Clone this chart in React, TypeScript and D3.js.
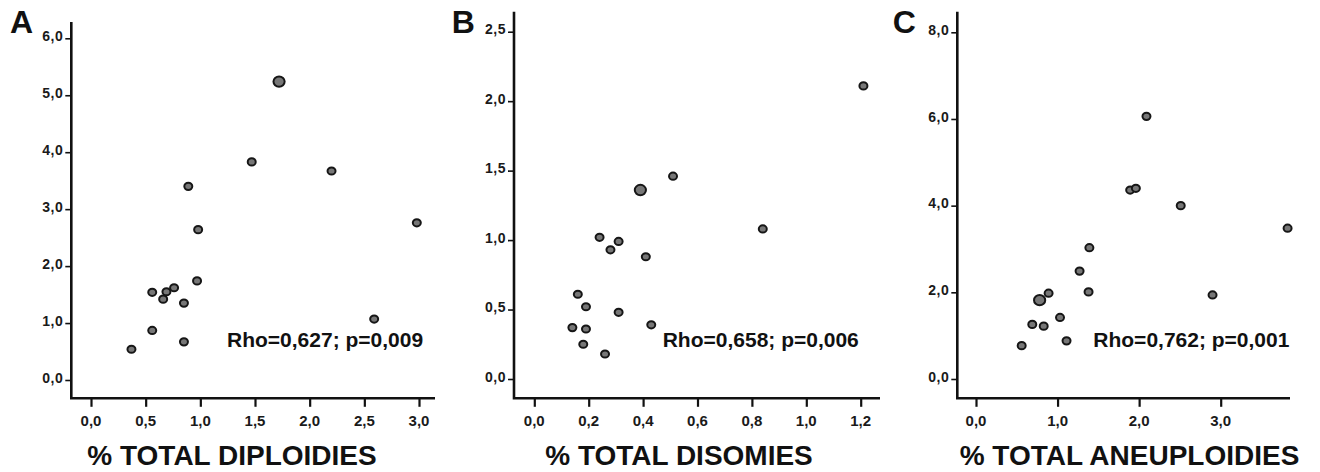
import { useEffect, useRef } from "react";
import * as d3 from "d3";

// A: % total diploidies
const diploX = [1.72, 1.47, 0.89, 2.2, 0.98, 2.98, 0.56, 0.66, 0.69, 0.76, 0.85, 0.97, 0.56, 0.85, 0.37, 2.59];
const diploY = [5.24, 3.83, 3.4, 3.67, 2.64, 2.76, 1.54, 1.42, 1.55, 1.62, 1.35, 1.74, 0.87, 0.67, 0.54, 1.07];
const diploN = [2, 1, 1, 1, 1, 1, 1, 1, 1, 1, 1, 1, 1, 1, 1, 1];

// B: % total disomies
const disoX = [1.21, 0.51, 0.39, 0.84, 0.24, 0.31, 0.28, 0.41, 0.16, 0.19, 0.31, 0.14, 0.19, 0.43, 0.18, 0.26];
const disoY = [2.11, 1.46, 1.36, 1.08, 1.02, 0.99, 0.93, 0.88, 0.61, 0.52, 0.48, 0.37, 0.36, 0.39, 0.25, 0.18];
const disoN = [1, 1, 2, 1, 1, 1, 1, 1, 1, 1, 1, 1, 1, 1, 1, 1];

// C: % total aneuploidies
const aneuX = [2.09, 1.89, 1.96, 2.51, 3.82, 1.39, 1.27, 1.38, 0.89, 0.78, 1.03, 0.69, 0.83, 1.11, 0.56, 2.9];
const aneuY = [6.06, 4.36, 4.4, 4.0, 3.48, 3.03, 2.49, 2.01, 1.98, 1.82, 1.42, 1.26, 1.22, 0.88, 0.77, 1.94];
const aneuN = [1, 1, 1, 1, 1, 1, 1, 1, 1, 2, 1, 1, 1, 1, 1, 1];

const xTicksA = [0, 0.5, 1, 1.5, 2, 2.5, 3];
const yTicksA = [0, 1, 2, 3, 4, 5, 6];
const xTicksB = [0, 0.2, 0.4, 0.6, 0.8, 1, 1.2];
const yTicksB = [0, 0.5, 1, 1.5, 2, 2.5];
const xTicksC = [0, 1, 2, 3];
const yTicksC = [0, 2, 4, 6, 8];

const letters = ["A", "B", "C"];
const titles = ["% TOTAL DIPLOIDIES", "% TOTAL DISOMIES", "% TOTAL ANEUPLOIDIES"];
const stats = ["Rho=0,627; p=0,009", "Rho=0,658; p=0,006", "Rho=0,762; p=0,001"];

const FONT = "'Liberation Sans', Arial, Helvetica, sans-serif";
const locale = d3.formatLocale({ decimal: ",", thousands: ".", grouping: [3], currency: ["", ""] });
const fmt = locale.format(".1f");

const panels = [
  { xs: diploX, ys: diploY, ns: diploN, xTicks: xTicksA, yTicks: yTicksA,
    xRange: [91, 419], yRange: [380, 38.3], axisX: 71.3, top: 22, right: 435,
    letterX: 10, titleX: 232, statX: 227 },
  { xs: disoX, ys: disoY, ns: disoN, xTicks: xTicksB, yTicks: yTicksB,
    xRange: [534.3, 860.7], yRange: [379, 31.7], axisX: 514, top: 11.7, right: 880,
    letterX: 451.7, titleX: 679, statX: 662.7 },
  { xs: aneuX, ys: aneuY, ns: aneuN, xTicks: xTicksC, yTicks: yTicksC,
    xRange: [976, 1220.7], yRange: [379, 32.3], axisX: 957.3, top: 11.7, right: 1290,
    letterX: 892.7, titleX: 1129.5, statX: 1093.3 },
];

const App = () => {
  const svgRef = useRef(null);

  useEffect(() => {
    const svg = d3.select(svgRef.current);
    svg.selectAll("*").remove();
    const axisY = 398.3;
    const r = d3.scaleSqrt().domain([1, 2]).range([4, 5.6]);

    panels.forEach((p, i) => {
      const x = d3.scaleLinear().domain(d3.extent(p.xTicks)).range(p.xRange);
      const y = d3.scaleLinear().domain(d3.extent(p.yTicks)).range(p.yRange);
      const g = svg.append("g");

      // tick marks from d3 axes, labels drawn separately
      const gx = g.append("g")
        .attr("transform", `translate(0,${axisY})`)
        .call(d3.axisBottom(x).tickValues(p.xTicks).tickFormat(() => "").tickSize(8.5));
      gx.select(".domain").remove();
      gx.selectAll("line").attr("stroke", "#111").attr("stroke-width", 2.2);

      const gy = g.append("g")
        .attr("transform", `translate(${p.axisX},0)`)
        .call(d3.axisLeft(y).tickValues(p.yTicks).tickFormat(() => "").tickSize(6));
      gy.select(".domain").remove();
      gy.selectAll("line").attr("stroke", "#111").attr("stroke-width", 1.6);

      g.selectAll(".xl")
        .data(p.xTicks)
        .enter()
        .append("text")
        .attr("class", "xl")
        .attr("x", (d) => x(d))
        .attr("y", axisY + 27.5)
        .attr("text-anchor", "middle")
        .style("font-family", FONT)
        .style("font-size", "15px")
        .style("font-weight", "bold")
        .style("fill", "#1a1a1a")
        .text((d) => fmt(d));

      g.selectAll(".yl")
        .data(p.yTicks)
        .enter()
        .append("text")
        .attr("class", "yl")
        .attr("x", p.axisX - 8)
        .attr("y", (d) => y(d) + 2.7)
        .attr("text-anchor", "end")
        .style("font-family", FONT)
        .style("font-size", "14px")
        .style("font-weight", "bold")
        .style("letter-spacing", "0.5px")
        .style("fill", "#1a1a1a")
        .text((d) => fmt(d));

      // axis lines
      g.append("path")
        .attr("d", `M${p.axisX},${p.top}V${axisY}H${p.right}`)
        .attr("fill", "none")
        .attr("stroke", "#111")
        .attr("stroke-width", 2.6);

      // points
      g.selectAll(".pt")
        .data(p.xs.map((v, k) => ({ x: v, y: p.ys[k], n: p.ns[k] })))
        .enter()
        .append("ellipse")
        .attr("class", "pt")
        .attr("cx", (d) => x(d.x))
        .attr("cy", (d) => y(d.y))
        .attr("rx", (d) => r(d.n))
        .attr("ry", (d) => r(d.n) - 0.4)
        .attr("fill", "#777")
        .attr("stroke", "#161616")
        .attr("stroke-width", 2);

      g.append("text")
        .attr("x", p.statX)
        .attr("y", 347)
        .style("font-family", FONT)
        .style("font-size", "21px")
        .style("font-weight", "bold")
        .style("fill", "#111")
        .text(stats[i]);

      g.append("text")
        .attr("x", p.titleX)
        .attr("y", 465)
        .attr("text-anchor", "middle")
        .style("font-family", FONT)
        .style("font-size", "28px")
        .style("font-weight", "bold")
        .style("fill", "#111")
        .text(titles[i]);

      g.append("text")
        .attr("x", p.letterX)
        .attr("y", 33)
        .style("font-family", FONT)
        .style("font-size", "32px")
        .style("font-weight", "bold")
        .style("fill", "#111")
        .text(letters[i]);
    });
  }, []);

  return (
    <svg
      ref={svgRef}
      width={1320}
      height={472}
      style={{ position: "absolute", left: 0, top: 0, background: "#fff" }}
    ></svg>
  );
};

export default App;
